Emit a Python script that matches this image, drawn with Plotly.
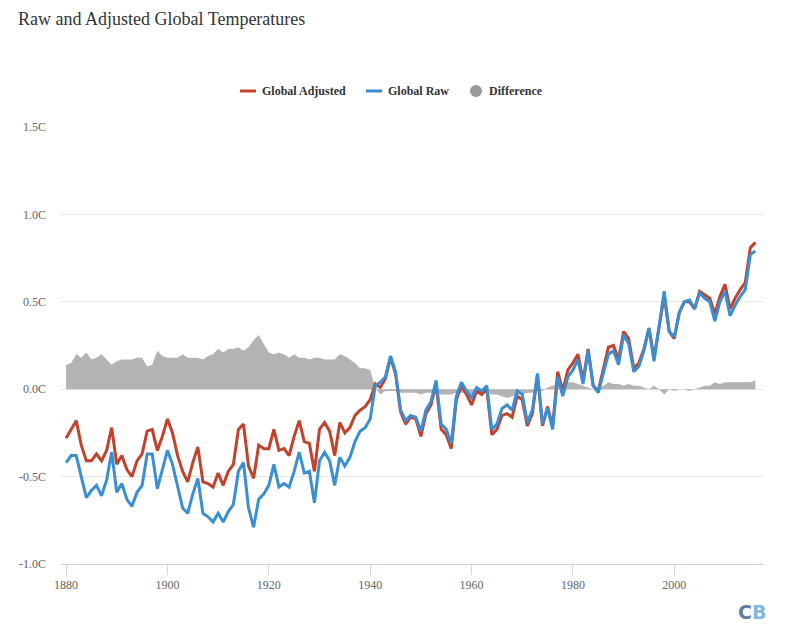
import plotly.graph_objects as go

years = list(range(1880, 2017))

global_raw = [
    -0.42, -0.38, -0.38, -0.50, -0.62, -0.58, -0.55, -0.61, -0.52, -0.36,
    -0.59, -0.54, -0.63, -0.67, -0.59, -0.55, -0.37, -0.37, -0.57, -0.46,
    -0.35, -0.43, -0.56, -0.68, -0.71, -0.60, -0.51, -0.71, -0.73, -0.76,
    -0.71, -0.76, -0.70, -0.66, -0.47, -0.42, -0.68, -0.79, -0.63, -0.60,
    -0.55, -0.43, -0.56, -0.54, -0.56, -0.47, -0.36, -0.48, -0.47, -0.65,
    -0.41, -0.36, -0.41, -0.55, -0.39, -0.44, -0.39, -0.30, -0.24, -0.22,
    -0.17, 0.02, 0.04, 0.07, 0.19, 0.10, -0.12, -0.18, -0.15, -0.16,
    -0.24, -0.12, -0.07, 0.05, -0.20, -0.23, -0.31, -0.04, 0.04, -0.01,
    -0.05, 0.01, -0.01, 0.02, -0.23, -0.20, -0.11, -0.09, -0.12, -0.01,
    -0.03, -0.19, -0.12, 0.09, -0.20, -0.11, -0.23, 0.07, -0.04, 0.07,
    0.11, 0.17, 0.03, 0.22, 0.02, -0.02, 0.09, 0.20, 0.22, 0.14,
    0.31, 0.26, 0.10, 0.13, 0.22, 0.35, 0.16, 0.36, 0.56, 0.33,
    0.30, 0.44, 0.50, 0.51, 0.46, 0.55, 0.52, 0.50, 0.39, 0.50,
    0.56, 0.42, 0.48, 0.53, 0.57, 0.77, 0.79,
]

global_adjusted = [
    -0.28, -0.23, -0.18, -0.32, -0.41, -0.41, -0.37, -0.41, -0.35, -0.22,
    -0.43, -0.38, -0.46, -0.50, -0.41, -0.37, -0.24, -0.23, -0.35, -0.27,
    -0.17, -0.25, -0.38, -0.47, -0.53, -0.42, -0.33, -0.53, -0.54, -0.56,
    -0.48, -0.55, -0.47, -0.43, -0.23, -0.20, -0.44, -0.51, -0.32, -0.34,
    -0.34, -0.23, -0.35, -0.34, -0.38, -0.27, -0.18, -0.30, -0.31, -0.47,
    -0.23, -0.19, -0.24, -0.38, -0.19, -0.25, -0.22, -0.15, -0.12, -0.10,
    -0.06, 0.03, 0.01, 0.06, 0.18, 0.09, -0.13, -0.20, -0.16, -0.17,
    -0.27, -0.14, -0.09, 0.03, -0.23, -0.26, -0.34, -0.06, 0.02, -0.03,
    -0.09, -0.01, -0.03, 0.00, -0.26, -0.23, -0.15, -0.14, -0.16, -0.04,
    -0.06, -0.21, -0.14, 0.08, -0.21, -0.10, -0.21, 0.10, -0.01, 0.11,
    0.15, 0.20, 0.05, 0.23, 0.02, -0.01, 0.11, 0.24, 0.25, 0.17,
    0.33, 0.29, 0.12, 0.15, 0.23, 0.35, 0.18, 0.36, 0.53, 0.33,
    0.29, 0.44, 0.50, 0.50, 0.46, 0.56, 0.54, 0.52, 0.43, 0.53,
    0.60, 0.46, 0.52, 0.57, 0.61, 0.81, 0.84,
]

difference = [
    0.14, 0.15, 0.20, 0.18, 0.21, 0.17, 0.18, 0.20, 0.17, 0.14,
    0.16, 0.17, 0.17, 0.17, 0.18, 0.18, 0.13, 0.14, 0.22, 0.19,
    0.18, 0.18, 0.18, 0.20, 0.18, 0.18, 0.18, 0.17, 0.19, 0.20,
    0.23, 0.21, 0.23, 0.23, 0.24, 0.22, 0.24, 0.28, 0.31, 0.26,
    0.21, 0.20, 0.21, 0.20, 0.18, 0.20, 0.18, 0.18, 0.17, 0.18,
    0.18, 0.17, 0.17, 0.17, 0.20, 0.19, 0.17, 0.15, 0.12, 0.12,
    0.11, 0.01, -0.03, -0.01, -0.01, -0.01, -0.02, -0.02, -0.02, -0.02,
    -0.03, -0.02, -0.02, -0.02, -0.03, -0.03, -0.03, -0.02, -0.02, -0.02,
    -0.03, -0.02, -0.02, -0.02, -0.03, -0.03, -0.04, -0.05, -0.04, -0.03,
    -0.03, -0.02, -0.02, -0.01, -0.01, 0.01, 0.02, 0.03, 0.03, 0.04,
    0.04, 0.03, 0.02, 0.01, 0.00, 0.01, 0.02, 0.04, 0.03, 0.03,
    0.02, 0.03, 0.02, 0.02, 0.01, 0.00, 0.02, 0.00, -0.03, 0.00,
    -0.01, 0.00, 0.00, -0.01, 0.00, 0.01, 0.02, 0.02, 0.04, 0.03,
    0.04, 0.04, 0.04, 0.04, 0.04, 0.04, 0.05,
]

y_ticks = [-1.0, -0.5, 0.0, 0.5, 1.0, 1.5]
y_tick_labels = ["-1.0C", "-0.5C", "0.0C", "0.5C", "1.0C", "1.5C"]
x_ticks = [1880, 1900, 1920, 1940, 1960, 1980, 2000]

RED = "#c0432d"
BLUE = "#3a8fd3"
GREY = "#b3b3b3"
SERIF = "Liberation Serif"

OFF = 8  # page body margin
W, H = 786 - OFF, 639 - OFF
L, R, T, B = 61 - OFF, 23, 127 - OFF, 75
PW, PH = W - L - R, H - T - B


def px(xp):
    return (xp - OFF - L) / PW


def py(yp):
    return (OFF + H - B - yp) / PH


fig = go.Figure()
fig.add_trace(go.Scatter(
    x=years, y=difference, mode="lines", fill="tozeroy",
    line=dict(width=0, color=GREY), fillcolor=GREY,
    name="Difference", showlegend=False, hoverinfo="skip"))
fig.add_trace(go.Scatter(
    x=years, y=global_adjusted, mode="lines",
    line=dict(width=3, color=RED), name="Global Adjusted", showlegend=False))
fig.add_trace(go.Scatter(
    x=years, y=global_raw, mode="lines",
    line=dict(width=3, color=BLUE), name="Global Raw", showlegend=False))

shapes = [
    dict(type="line", xref="paper", yref="paper", x0=px(240), x1=px(256),
         y0=py(91), y1=py(91), line=dict(color=RED, width=3)),
    dict(type="line", xref="paper", yref="paper", x0=px(366), x1=px(382),
         y0=py(91), y1=py(91), line=dict(color=BLUE, width=3)),
    dict(type="circle", xref="paper", yref="paper", x0=px(470), x1=px(482),
         y0=py(97), y1=py(85), line=dict(width=0), fillcolor="#999999"),
]

legend_font = dict(family=SERIF, size=12, color="#333333")
annotations = [
    dict(text="<b>Global Adjusted</b>", xref="paper", yref="paper", x=px(260), y=py(91),
         xanchor="left", yanchor="middle", showarrow=False, font=legend_font),
    dict(text="<b>Global Raw</b>", xref="paper", yref="paper", x=px(386), y=py(91),
         xanchor="left", yanchor="middle", showarrow=False, font=legend_font),
    dict(text="<b>Difference</b>", xref="paper", yref="paper", x=px(487), y=py(91),
         xanchor="left", yanchor="middle", showarrow=False, font=legend_font),
    dict(text="<b><span style='color:#5f7e9c'>C</span><span style='color:#83b7e0'>B</span></b>",
         xref="paper", yref="paper", x=px(768), y=py(612), xanchor="right", yanchor="middle",
         showarrow=False, font=dict(family="DejaVu Sans", size=19)),
]

fig.update_layout(
    width=W, height=H,
    margin=dict(l=L, r=R, t=T, b=B),
    paper_bgcolor="white", plot_bgcolor="white",
    title=dict(text="Raw and Adjusted Global Temperatures", xref="container", yref="container",
               x=(18 - OFF) / W, xanchor="left", y=1 - (19 - OFF) / H, yanchor="middle",
               font=dict(family=SERIF, size=18, color="#333333")),
    showlegend=False,
    shapes=shapes,
    annotations=annotations,
    xaxis=dict(range=[1879, 2017.5], tickvals=x_ticks, showgrid=False, zeroline=False,
               showline=True, linecolor="#ccd6eb", linewidth=1,
               ticks="outside", ticklen=10, tickcolor="#ccd6eb",
               tickfont=dict(family=SERIF, size=12, color="#666666")),
    yaxis=dict(range=[-1.0, 1.5], tickmode="array", tickvals=y_ticks, ticktext=y_tick_labels,
               showgrid=True, gridcolor="#e6e6e6", gridwidth=1, zeroline=False,
               showline=False, ticks="", ticklabelstandoff=14,
               tickfont=dict(family=SERIF, size=12, color="#666666")),
)

fig.write_html("out.html")
